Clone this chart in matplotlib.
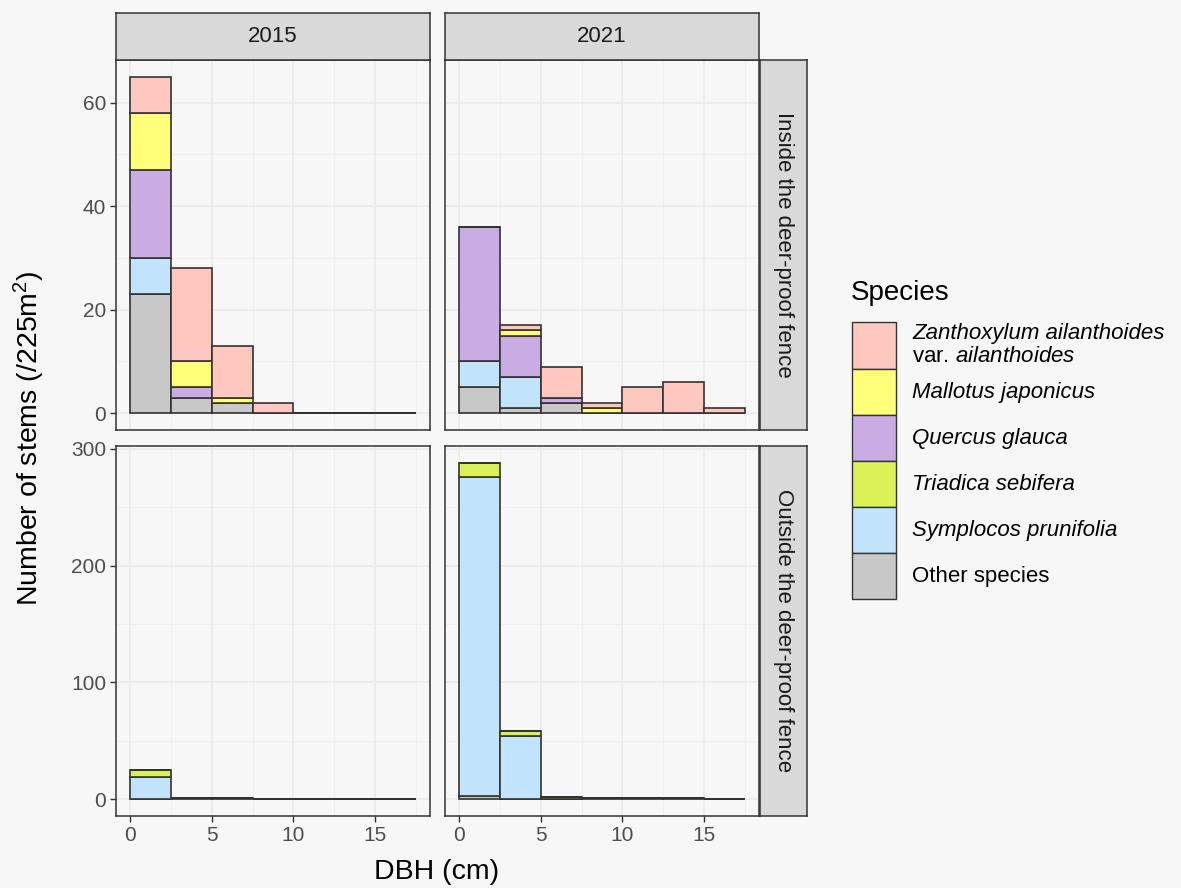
import matplotlib
matplotlib.use("Agg")
import matplotlib.pyplot as plt
from matplotlib.patches import Rectangle

plt.rcParams['font.family'] = ['Liberation Sans', 'DejaVu Sans']
plt.rcParams['mathtext.fontset'] = 'custom'
plt.rcParams['mathtext.rm'] = 'Liberation Sans'
plt.rcParams['mathtext.it'] = 'Liberation Sans:italic'

# DBH classes (left edge of each 2.5 cm bin)
dbh_bins = [0, 2.5, 5, 7.5, 10, 12.5, 15]
bin_width = 2.5

# species, legend order (top of the stack first)
species = ["Zanthoxylum", "Mallotus", "Quercus", "Triadica", "Symplocos", "Other"]
colors = ["#FFC8BE", "#FFFF78", "#C9ACE3", "#DAF255", "#C1E4FC", "#C8C8C8"]

# stem counts per bin, rows in the same order as `species`
inside_2015 = [
    [7, 18, 10, 2, 0, 0, 0],
    [11, 5, 1, 0, 0, 0, 0],
    [17, 2, 0, 0, 0, 0, 0],
    [0, 0, 0, 0, 0, 0, 0],
    [7, 0, 0, 0, 0, 0, 0],
    [23, 3, 2, 0, 0, 0, 0],
]
inside_2021 = [
    [0, 1, 6, 1, 5, 6, 1],
    [0, 1, 0, 1, 0, 0, 0],
    [26, 8, 1, 0, 0, 0, 0],
    [0, 0, 0, 0, 0, 0, 0],
    [5, 6, 0, 0, 0, 0, 0],
    [5, 1, 2, 0, 0, 0, 0],
]
outside_2015 = [
    [0, 0, 0, 0, 0, 0, 0],
    [0, 0, 0, 0, 0, 0, 0],
    [0, 0, 0, 0, 0, 0, 0],
    [6, 0, 0, 0, 0, 0, 0],
    [19, 0, 0, 0, 0, 0, 0],
    [0, 1, 1, 0, 0, 0, 0],
]
outside_2021 = [
    [0, 0, 0, 0, 0, 0, 0],
    [0, 0, 0, 0, 0, 0, 0],
    [0, 0, 0, 0, 0, 0, 0],
    [12, 4, 2, 0, 0, 0, 0],
    [273, 54, 0, 0, 0, 0, 0],
    [3, 0, 0, 1, 1, 1, 0],
]

years = ["2015", "2021"]
rows = ["Inside the deer-proof fence", "Outside the deer-proof fence"]
panels = [[inside_2015, inside_2021], [outside_2015, outside_2021]]

W, H = 1181, 888
BG = "#F7F7F7"
DARK = "#333333"


def box(x0, y0, x1, y1):
    return [x0 / W, 1 - y1 / H, (x1 - x0) / W, (y1 - y0) / H]


fig = plt.figure(figsize=(W / 100, H / 100), dpi=100, facecolor=BG)

col_px = [(116, 430), (445, 759)]
row_px = [(60, 430), (446, 816)]

for r in range(2):
    # shared y limits per row, ggplot 5% expansion
    row_max = max(sum(s[i] for s in p) for p in panels[r] for i in range(len(dbh_bins)))
    pad = row_max * 0.05
    for c in range(2):
        x0, x1 = col_px[c]
        y0, y1 = row_px[r]
        ax = fig.add_axes(box(x0, y0, x1, y1))
        ax.set_facecolor(BG)
        data = panels[r][c]
        bottom = [0] * len(dbh_bins)
        # stack from bottom: last species first
        for k in range(len(species) - 1, -1, -1):
            ax.bar(dbh_bins, data[k], width=bin_width, bottom=bottom, align='edge',
                   color=colors[k], edgecolor=DARK, linewidth=1.2, zorder=3)
            bottom = [b + v for b, v in zip(bottom, data[k])]
        ax.set_xlim(-0.875, 18.375)
        ax.set_ylim(-pad, row_max + pad)
        ax.set_xticks([0, 5, 10, 15])
        ax.set_xticks([2.5, 7.5, 12.5, 17.5], minor=True)
        if r == 0:
            ax.set_yticks([0, 20, 40, 60])
            ax.set_yticks([10, 30, 50], minor=True)
        else:
            ax.set_yticks([0, 100, 200, 300])
            ax.set_yticks([50, 150, 250], minor=True)
        ax.grid(True, which='major', color='#EAEAEA', linewidth=1.2, zorder=0)
        ax.grid(True, which='minor', color='#EEEEEE', linewidth=0.6, zorder=0)
        ax.set_axisbelow(True)
        for sp in ax.spines.values():
            sp.set_color(DARK)
            sp.set_linewidth(1.1)
        ax.tick_params(which='minor', length=0)
        ax.tick_params(which='major', length=4, width=1.0, color=DARK,
                       labelcolor='#4D4D4D', labelsize=15, pad=3)
        if c == 1:
            ax.tick_params(axis='y', length=0, labelleft=False)
        if r == 0:
            ax.tick_params(axis='x', length=0, labelbottom=False)

    # row strip on the right
    sx = fig.add_axes(box(760, row_px[r][0], 807, row_px[r][1]))
    sx.set_facecolor("#D9D9D9")
    sx.set_xticks([])
    sx.set_yticks([])
    for sp in sx.spines.values():
        sp.set_color(DARK)
        sp.set_linewidth(1.1)
    sx.text(0.5, 0.5, rows[r], rotation=-90, ha='center', va='center',
            fontsize=16, color='#1A1A1A', transform=sx.transAxes)

# column strips
for c in range(2):
    sx = fig.add_axes(box(col_px[c][0], 13, col_px[c][1], 60))
    sx.set_facecolor("#D9D9D9")
    sx.set_xticks([])
    sx.set_yticks([])
    for sp in sx.spines.values():
        sp.set_color(DARK)
        sp.set_linewidth(1.1)
    sx.text(0.5, 0.5, years[c], ha='center', va='center', fontsize=16,
            color='#1A1A1A', transform=sx.transAxes)

fig.text(437 / W, 1 - 872 / H, "DBH (cm)", ha='center', va='center', fontsize=20.5)
fig.text(29 / W, 1 - 438 / H, "Number of stems (/225m$^2$)", rotation=90,
         ha='center', va='center', fontsize=20.5)

# legend drawn in pixel coordinates
lax = fig.add_axes([0, 0, 1, 1])
lax.set_xlim(0, W)
lax.set_ylim(H, 0)
lax.axis('off')
lax.patch.set_alpha(0)
lax.text(851, 293, "Species", fontsize=20, va='center', ha='left')
key_tops = [322, 369, 415, 461, 507, 553]
key_h = [47, 46, 46, 46, 46, 46]
for k in range(len(species)):
    lax.add_patch(Rectangle((852, key_tops[k]), 44, key_h[k], facecolor=colors[k],
                            edgecolor=DARK, linewidth=1.0))
lax.text(912, 333, "Zanthoxylum ailanthoides", fontstyle='italic', fontsize=16, va='center')
lax.text(912, 356, r"var. $\mathit{ailanthoides}$", fontsize=16, va='center')
leg_labels = ["Mallotus japonicus", "Quercus glauca", "Triadica sebifera", "Symplocos prunifolia"]
for i, lab in enumerate(leg_labels):
    lax.text(912, key_tops[i + 1] + key_h[i + 1] / 2, lab, fontstyle='italic', fontsize=16, va='center')
lax.text(912, key_tops[5] + key_h[5] / 2, "Other species", fontsize=16, va='center')

fig.savefig("out.png", dpi=100, facecolor=BG)
